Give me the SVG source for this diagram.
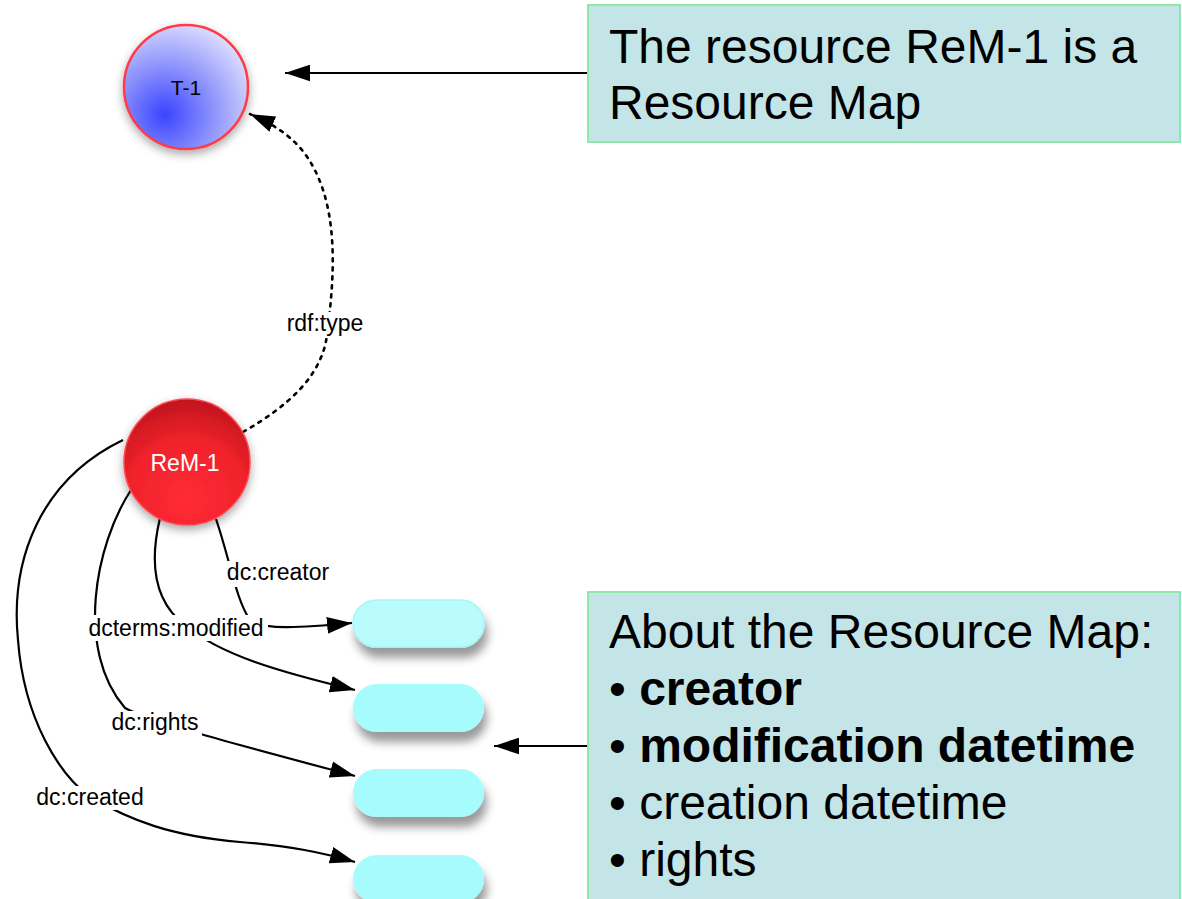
<svg xmlns="http://www.w3.org/2000/svg" width="1182" height="899" viewBox="0 0 1182 899">
<style>
.edge{fill:none;stroke:#000;stroke-width:2.2}
.dot{stroke-dasharray:3 6;stroke-width:2.6;stroke-linecap:round}
.lbl{font-family:"Liberation Sans",Arial,sans-serif;font-size:23px;fill:#000;text-anchor:middle}
.lblbg{fill:#fff}
.note{fill:#c4e5e7;stroke:#90e8a8;stroke-width:2}
.big{font-family:"Liberation Sans",Arial,sans-serif;font-size:48px;fill:#000}
.pill{fill:#a6fbfd;filter:url(#pshadow)}
.nodetxt{font-family:"Liberation Sans",Arial,sans-serif;font-size:21px;text-anchor:middle}
</style>
<defs>
<marker id="arr" viewBox="0 0 12 8" markerUnits="userSpaceOnUse" markerWidth="25" markerHeight="17" refX="12" refY="4" orient="auto">
<path d="M0,0 L12,4 L0,8 z" fill="#000" stroke="none"/>
</marker>
<radialGradient id="gBlue" cx="0.33" cy="0.72" r="0.85" fx="0.33" fy="0.72">
<stop offset="0" stop-color="#3a44ff"/>
<stop offset="0.55" stop-color="#9da2fb"/>
<stop offset="1" stop-color="#ececff"/>
</radialGradient>
<radialGradient id="gRed" cx="0.5" cy="0.78" r="0.85" fx="0.5" fy="0.8">
<stop offset="0" stop-color="#ff2c35"/>
<stop offset="0.55" stop-color="#f0222b"/>
<stop offset="1" stop-color="#b5121a"/>
</radialGradient>
<filter id="cshadow" x="-30%" y="-30%" width="160%" height="170%">
<feDropShadow dx="0" dy="4" stdDeviation="5" flood-color="#000" flood-opacity="0.35"/>
</filter>
<filter id="pshadow" x="-20%" y="-40%" width="150%" height="200%">
<feDropShadow dx="3" dy="10" stdDeviation="5" flood-color="#000" flood-opacity="0.4"/>
</filter>
</defs>

<g id="connectors">
<path class="edge" d="M588,73 L285,73" marker-end="url(#arr)"/>
<path class="edge" d="M588,746 L494,746" marker-end="url(#arr)"/>
<path class="edge dot" d="M243,432 C290,405 322,375 327,335 C334,280 342,200 302,150 C287,132 268,122 250,114" marker-end="url(#arr)"/>
<path class="edge" d="M216,519 C230,560 236,600 250,620 C262,630 300,628 352,623" marker-end="url(#arr)"/>
<path class="edge" d="M160,518 C150,560 152,600 185,625 C220,655 280,672 355,690" marker-end="url(#arr)"/>
<path class="edge" d="M131,490 C95,545 75,650 125,708 C150,722 250,748 355,776" marker-end="url(#arr)"/>
<path class="edge" d="M123,440 C40,480 10,560 18,640 C24,720 60,775 90,797 C130,820 170,836 240,842 C290,846 320,852 355,862" marker-end="url(#arr)"/>
<rect class="lblbg" x="285" y="312" width="80" height="26"/>
<text class="lbl" x="325" y="331">rdf:type</text>
<rect class="lblbg" x="225" y="561" width="108" height="26"/>
<text class="lbl" x="278" y="580">dc:creator</text>
<rect class="lblbg" x="85" y="615" width="183" height="26"/>
<text class="lbl" x="176" y="636">dcterms:modified</text>
<rect class="lblbg" x="108" y="711" width="94" height="26"/>
<text class="lbl" x="155" y="730">dc:rights</text>
<rect class="lblbg" x="33" y="786" width="114" height="24"/>
<text class="lbl" x="90" y="805">dc:created</text>
</g>

<g id="T-1">
<circle cx="186" cy="87" r="62" fill="url(#gBlue)" stroke="#ff3b46" stroke-width="2.5" filter="url(#cshadow)"/>
<text class="nodetxt" x="186" y="95" fill="#000">T-1</text>
</g>

<g id="ReM-1">
<circle cx="187" cy="462" r="63" fill="url(#gRed)" stroke="#ff4a52" stroke-width="1.5" filter="url(#cshadow)"/>
<text class="nodetxt" x="185" y="471" fill="#fff" style="font-size:23px">ReM-1</text>
</g>

<g id="literal-1"><rect class="pill" x="353" y="600" width="131" height="47" rx="23.5" style="fill:#bafcfc;stroke:#a6f6f8;stroke-width:1.5"/></g>
<g id="literal-2"><rect class="pill" x="353" y="684" width="131" height="48" rx="24"/></g>
<g id="literal-3"><rect class="pill" x="353" y="769" width="131" height="48" rx="24"/></g>
<g id="literal-4"><rect class="pill" x="353" y="855" width="131" height="48" rx="24"/></g>

<g id="note-type">
<rect class="note" x="588" y="5" width="592" height="137"/>
<text class="big" x="609" y="63">The resource ReM-1 is a</text>
<text class="big" x="609" y="119">Resource Map</text>
</g>

<g id="note-about">
<rect class="note" x="588" y="592" width="592" height="320"/>
<text class="big" x="609" y="648">About the Resource Map:</text>
<text class="big" x="609" y="705">• <tspan font-weight="bold">creator</tspan></text>
<text class="big" x="609" y="762">• <tspan font-weight="bold">modification datetime</tspan></text>
<text class="big" x="609" y="819">• creation datetime</text>
<text class="big" x="609" y="876">• rights</text>
</g>
</svg>
